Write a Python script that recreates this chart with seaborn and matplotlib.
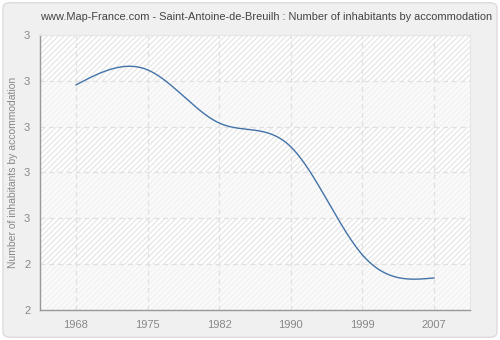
import numpy as np
import pandas as pd
import matplotlib
matplotlib.use("Agg")
import matplotlib.pyplot as plt
from matplotlib.patches import FancyBboxPatch
import seaborn as sns

# ---- data ----
years = ["1968", "1975", "1982", "1990", "1999", "2007"]
values = [2.791, 2.824, 2.708, 2.656, 2.420, 2.370]
ytick_values = [2.3, 2.4, 2.5, 2.6, 2.7, 2.8, 2.9]
ytick_labels = ["2", "2", "3", "3", "3", "3", "3"]
title = "www.Map-France.com - Saint-Antoine-de-Breuilh : Number of inhabitants by accommodation"
ylabel = "Number of inhabitants by accommodation"


def natural_spline(x, y, n=400):
    x = np.asarray(x, float)
    y = np.asarray(y, float)
    k = len(x)
    h = np.diff(x)
    A = np.zeros((k, k))
    b = np.zeros(k)
    A[0, 0] = 1
    A[-1, -1] = 1
    for i in range(1, k - 1):
        A[i, i - 1] = h[i - 1]
        A[i, i] = 2 * (h[i - 1] + h[i])
        A[i, i + 1] = h[i]
        b[i] = 6 * ((y[i + 1] - y[i]) / h[i] - (y[i] - y[i - 1]) / h[i - 1])
    M = np.linalg.solve(A, b)
    xs = np.linspace(x[0], x[-1], n)
    ys = np.empty_like(xs)
    for j, t in enumerate(xs):
        i = min(np.searchsorted(x, t, side="right") - 1, k - 2)
        a = x[i + 1] - t
        c = t - x[i]
        ys[j] = (M[i] * a ** 3 + M[i + 1] * c ** 3) / (6 * h[i]) + \
                (y[i] / h[i] - M[i] * h[i] / 6) * a + \
                (y[i + 1] / h[i] - M[i + 1] * h[i] / 6) * c
    return xs, ys


sns.set_style("white")
plt.rcParams["font.family"] = ["Liberation Sans", "DejaVu Sans"]

fig = plt.figure(figsize=(5.0, 3.4), dpi=100)
fig.patch.set_facecolor("white")
border = FancyBboxPatch((0.006, 0.008), 0.988, 0.984,
                        boxstyle="round,pad=0,rounding_size=0.015",
                        transform=fig.transFigure, facecolor="#f0f0f0",
                        edgecolor="#dcdcdc", linewidth=1.0, zorder=-10)
fig.patches.append(border)

ax = fig.add_axes([40 / 500, 30 / 340, 430 / 500, 275 / 340])
ax.set_facecolor("#fbfbfb")

pos = np.arange(len(years))
ax.set_xlim(-0.5, len(years) - 0.5)
ax.set_ylim(ytick_values[0], ytick_values[-1])

# alternating hatched bands
edges = ytick_values
for i in range(len(edges) - 1):
    if (len(edges) - 2 - i) % 2 == 0:
        ax.axhspan(edges[i], edges[i + 1], facecolor="white", edgecolor="#e8e8e8",
                   hatch="//////", linewidth=0, zorder=0)
    else:
        ax.axhspan(edges[i], edges[i + 1], facecolor="#fafafa", edgecolor="#f2f2f2",
                   hatch="//////", linewidth=0, zorder=0)

xs, ys = natural_spline(pos, values)
df = pd.DataFrame({"x": xs, "y": ys})
sns.lineplot(data=df, x="x", y="y", ax=ax, color="#4272a8", linewidth=1.0, zorder=3)

ax.set_xticks(pos)
ax.set_xticklabels(years)
ax.set_yticks(ytick_values)
ax.set_yticklabels(ytick_labels)
ax.grid(True, color="#e0e0e0", linestyle=(0, (4, 3)), linewidth=0.9, zorder=1)
ax.set_axisbelow(True)

for s in ["top", "right"]:
    ax.spines[s].set_color("#e6e6e6")
    ax.spines[s].set_linewidth(0.8)
for s in ["left", "bottom"]:
    ax.spines[s].set_color("#999999")
    ax.spines[s].set_linewidth(1.0)

ax.tick_params(axis="both", colors="#999999", labelcolor="#888888",
               labelsize=8, length=4, width=0.8, direction="out", pad=3)
ax.set_xlabel("")
ax.set_ylabel(ylabel, color="#888888", fontsize=7.5)
ax.yaxis.set_label_coords(-22 / 430, 0.5)
fig.text(266 / 500, 1 - 17 / 340, title, ha="center", va="center",
         fontsize=7.9, color="#444444")

fig.savefig("out.png", dpi=100, facecolor=fig.get_facecolor())
